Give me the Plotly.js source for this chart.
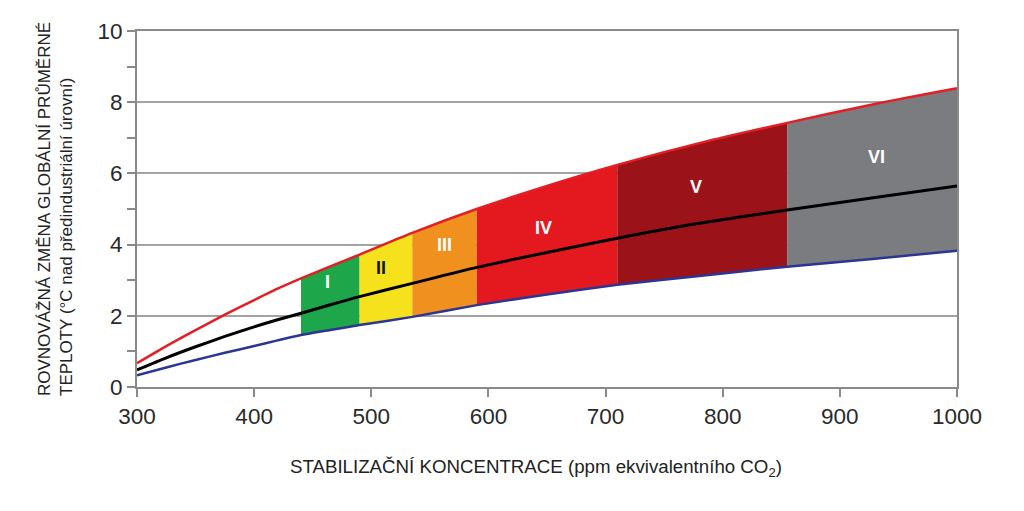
<!DOCTYPE html>
<html>
<head>
<meta charset="utf-8">
<script src="https://cdn.plot.ly/plotly-3.0.1.min.js"></script>
<style>html,body{margin:0;padding:0;background:#fff;}#chart{width:1024px;height:511px;}</style>
</head>
<body>
<div id="chart"></div>
<script>
// Data
const conc    = [300, 325, 350, 375, 400, 420, 440, 465, 490, 535, 590, 650, 710, 780, 855, 930, 1000];
const upper   = [0.67, 1.15, 1.60, 2.03, 2.44, 2.76, 3.05, 3.39, 3.72, 4.33, 5.00, 5.65, 6.24, 6.85, 7.42, 7.95, 8.39];
const central = [0.48, 0.82, 1.13, 1.42, 1.69, 1.89, 2.07, 2.31, 2.54, 2.91, 3.36, 3.78, 4.18, 4.60, 4.97, 5.32, 5.65];
const lower   = [0.33, 0.55, 0.76, 0.96, 1.15, 1.31, 1.46, 1.60, 1.74, 1.97, 2.30, 2.60, 2.87, 3.12, 3.38, 3.60, 3.83];
const bandEdges  = [440, 490, 535, 590, 710, 855, 1000];
const bandLabels = ['I', 'II', 'III', 'IV', 'V', 'VI'];
const xTicks = [300, 400, 500, 600, 700, 800, 900, 1000];
const yTicks = [0, 2, 4, 6, 8, 10];

// Styles (kept apart from data)
const FONT = '"Liberation Sans", Arial, sans-serif';
const bandColors = ['#1ea64b', '#f6e21c', '#f0901f', '#e3191f', '#9b1318', '#7b7c7f'];
const labelColors = ['#ffffff', '#111111', '#ffffff', '#ffffff', '#ffffff', '#ffffff'];
const labelFrac = [0.62, 0.5, 0.55, 0.38, 0.46, 0.43];
const labelShift = [-2, -4, 0, -3, -5, 4];

const traces = [];
for (let i = 0; i < bandLabels.length; i++) {
  const a = bandEdges[i], b = bandEdges[i + 1];
  const xs = [], ys = [];
  for (let k = 0; k < conc.length; k++) if (conc[k] >= a && conc[k] <= b) { xs.push(conc[k]); ys.push(upper[k]); }
  for (let k = conc.length - 1; k >= 0; k--) if (conc[k] >= a && conc[k] <= b) { xs.push(conc[k]); ys.push(lower[k]); }
  traces.push({x: xs, y: ys, type: 'scatter', mode: 'lines', fill: 'toself',
    fillcolor: bandColors[i], line: {width: 0, color: bandColors[i]}, hoverinfo: 'skip', showlegend: false});
}
traces.push({x: conc, y: lower, type: 'scatter', mode: 'lines', line: {color: '#2b3593', width: 2.5, shape: 'spline', smoothing: 0.6}, showlegend: false});
traces.push({x: conc, y: upper, type: 'scatter', mode: 'lines', line: {color: '#e31e24', width: 2.5, shape: 'spline', smoothing: 0.6}, showlegend: false});
traces.push({x: conc, y: central, type: 'scatter', mode: 'lines', line: {color: '#000000', width: 3, shape: 'spline', smoothing: 0.6}, showlegend: false});

function interp(arr, x) {
  for (let k = 0; k < conc.length - 1; k++) {
    if (x >= conc[k] && x <= conc[k + 1]) {
      const t = (x - conc[k]) / (conc[k + 1] - conc[k]);
      return arr[k] + t * (arr[k + 1] - arr[k]);
    }
  }
  return arr[arr.length - 1];
}

const annotations = bandLabels.map((lab, i) => {
  const xm = (bandEdges[i] + bandEdges[i + 1]) / 2 + labelShift[i];
  const c = interp(central, xm), u = interp(upper, xm);
  return {x: xm, y: c + labelFrac[i] * (u - c), xref: 'x', yref: 'y', text: '<b>' + lab + '</b>',
    showarrow: false, font: {family: FONT, size: 18, color: labelColors[i]}};
});
annotations.push({
  xref: 'paper', yref: 'paper', x: -0.1, y: 0.5, xanchor: 'center', yanchor: 'middle',
  textangle: -90, align: 'left', showarrow: false,
  text: 'ROVNOVÁŽNÁ ZMĚNA GLOBÁLNÍ PRŮMĚRNÉ<br>TEPLOTY (°C nad předindustriální úrovní)',
  font: {family: FONT, size: 17, color: '#222'}
});
annotations.push({
  xref: 'paper', yref: 'paper', x: 0.487, y: -0.228, xanchor: 'center', yanchor: 'middle',
  showarrow: false,
  text: 'STABILIZAČNÍ KONCENTRACE (ppm ekvivalentního CO<sub>2</sub>)',
  font: {family: FONT, size: 18.7, color: '#222'}
});

const layout = {
  width: 1024, height: 511,
  margin: {l: 137, r: 67, t: 31, b: 124},
  paper_bgcolor: '#ffffff', plot_bgcolor: '#ffffff',
  showlegend: false,
  font: {family: FONT, color: '#333'},
  xaxis: {
    range: [300, 1000], tickvals: xTicks, ticktext: xTicks.map(String),
    showgrid: false, zeroline: false,
    showline: true, linecolor: '#8a8a8a', linewidth: 2, mirror: true,
    ticks: 'outside', ticklen: 8, tickwidth: 2, tickcolor: '#8a8a8a',
    tickfont: {family: FONT, size: 22.5, color: '#2a2a2a'}
  },
  yaxis: {
    range: [0, 10], tickvals: yTicks, ticktext: yTicks.map(String),
    showgrid: true, gridcolor: '#a3a3a3', gridwidth: 2, zeroline: false,
    showline: true, linecolor: '#8a8a8a', linewidth: 2, mirror: true,
    ticks: 'outside', ticklen: 8, tickwidth: 2, tickcolor: '#8a8a8a',
    tickfont: {family: FONT, size: 22.5, color: '#2a2a2a'},
    minor: {dtick: 1, ticks: 'outside', ticklen: 8, tickwidth: 2, tickcolor: '#8a8a8a', showgrid: false}
  },
  annotations: annotations
};

Plotly.newPlot('chart', traces, layout, {displayModeBar: false, staticPlot: true});
</script>
</body>
</html>
